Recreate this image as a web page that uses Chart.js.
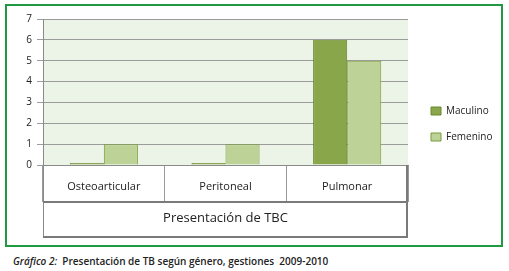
<!DOCTYPE html>
<html>
<head>
<meta charset="utf-8">
<script src="https://cdn.jsdelivr.net/npm/chart.js@4.4.0/dist/chart.umd.min.js"></script>
<style>
  body { margin: 0; background: #fff; width: 509px; height: 271px; position: relative; overflow: hidden; }
  #frame { position: absolute; left: 5px; top: 4px; width: 494px; height: 239px; border: 2px solid #1f9a43; }
  #caption { position: absolute; left: 13px; top: 254px; font: 600 10px "Open Sans", sans-serif; color: #222; white-space: pre; }
</style>
</head>
<body>
<div id="frame"><canvas id="c" width="494" height="239"></canvas></div>
<div id="caption"><i>Gráfico 2:</i>  Presentación de TB según género, gestiones  2009-2010</div>
<script>
const categories = ['Osteoarticular', 'Peritoneal', 'Pulmonar']
const masculino = [0, 0, 6]
const femenino = [1, 1, 5]
const seriesNames = ['Maculino', 'Femenino']
const axisTitle = 'Presentación de TBC'
const yMax = 7

const font = '"Open Sans", sans-serif'

// plot background + the box under the plot
const frameBox = {
  id: 'frameBox',
  beforeDraw(chart) {
    const { ctx, chartArea: a } = chart
    ctx.save()
    ctx.fillStyle = '#ecf3e7'
    ctx.fillRect(a.left, a.top, a.right - a.left, a.bottom - a.top)
    ctx.restore()
  },
  afterDraw(chart) {
    const { ctx, chartArea: a } = chart
    const x = chart.scales.x
    const rowY = x.top + 37
    ctx.save()
    ctx.strokeStyle = '#8a8a8a'
    ctx.lineWidth = 1
    ctx.beginPath()
    ctx.moveTo(a.left + 0.5, x.top)
    ctx.lineTo(a.left + 0.5, x.bottom)
    ctx.stroke()
    ctx.strokeStyle = '#7a7a7a'
    ctx.lineWidth = 2
    ctx.beginPath()
    ctx.moveTo(a.right - 1, x.top)
    ctx.lineTo(a.right - 1, x.bottom)
    ctx.moveTo(a.left, rowY)
    ctx.lineTo(a.right, rowY)
    ctx.moveTo(a.left, x.bottom - 1)
    ctx.lineTo(a.right, x.bottom - 1)
    ctx.stroke()
    ctx.restore()
  }
}

new Chart(document.getElementById('c'), {
  type: 'bar',
  data: {
    labels: categories,
    datasets: [
      {
        label: seriesNames[0], data: masculino, xAxisID: 'x', yAxisID: 'y',
        backgroundColor: '#89a64b', borderColor: '#6b8a2d', borderWidth: 1, minBarLength: 2
      },
      {
        label: seriesNames[1], data: femenino, xAxisID: 'x', yAxisID: 'y',
        backgroundColor: '#bcd297', borderColor: '#7b9c3c', borderWidth: 1
      }
    ]
  },
  options: {
    responsive: false,
    animation: false,
    categoryPercentage: 0.56,
    barPercentage: 1,
    layout: { padding: { top: 4, left: 0, right: 0, bottom: 7 } },
    plugins: {
      tooltip: { enabled: false },
      legend: {
        position: 'right',
        maxWidth: 86,
        labels: {
          boxWidth: 10, boxHeight: 8, padding: 16,
          color: '#222', font: { family: font, size: 10 }
        }
      }
    },
    scales: {
      x: {
        position: 'bottom',
        grid: { drawOnChartArea: false, tickLength: 37, color: '#9a9a9a' },
        border: { display: true, color: '#8a8a8a' },
        ticks: { padding: -22, color: '#222', font: { family: font, size: 11 } },
        title: {
          display: true, text: axisTitle, color: '#222',
          font: { family: font, size: 13 }, padding: { top: 0, bottom: 12 }
        },
        afterFit(s) { s.height = 73 }
      },
      top: {
        type: 'category', position: 'top', labels: categories,
        grid: { display: false }, border: { display: false }, ticks: { display: false },
        afterFit(s) { s.height = 9 }
      },
      y: {
        min: 0, max: yMax,
        ticks: { stepSize: 1, padding: 5, color: '#222', font: { family: font, size: 10 } },
        grid: { color: '#9c9c9c', tickLength: 6 },
        border: { color: '#8a8a8a' },
        afterFit(s) { s.width = 36 }
      },
      right: {
        type: 'linear', position: 'right',
        grid: { display: false }, border: { display: false }, ticks: { display: false },
        afterFit(s) { s.width = 7 }
      }
    }
  },
  plugins: [frameBox]
})
</script>
</body>
</html>
